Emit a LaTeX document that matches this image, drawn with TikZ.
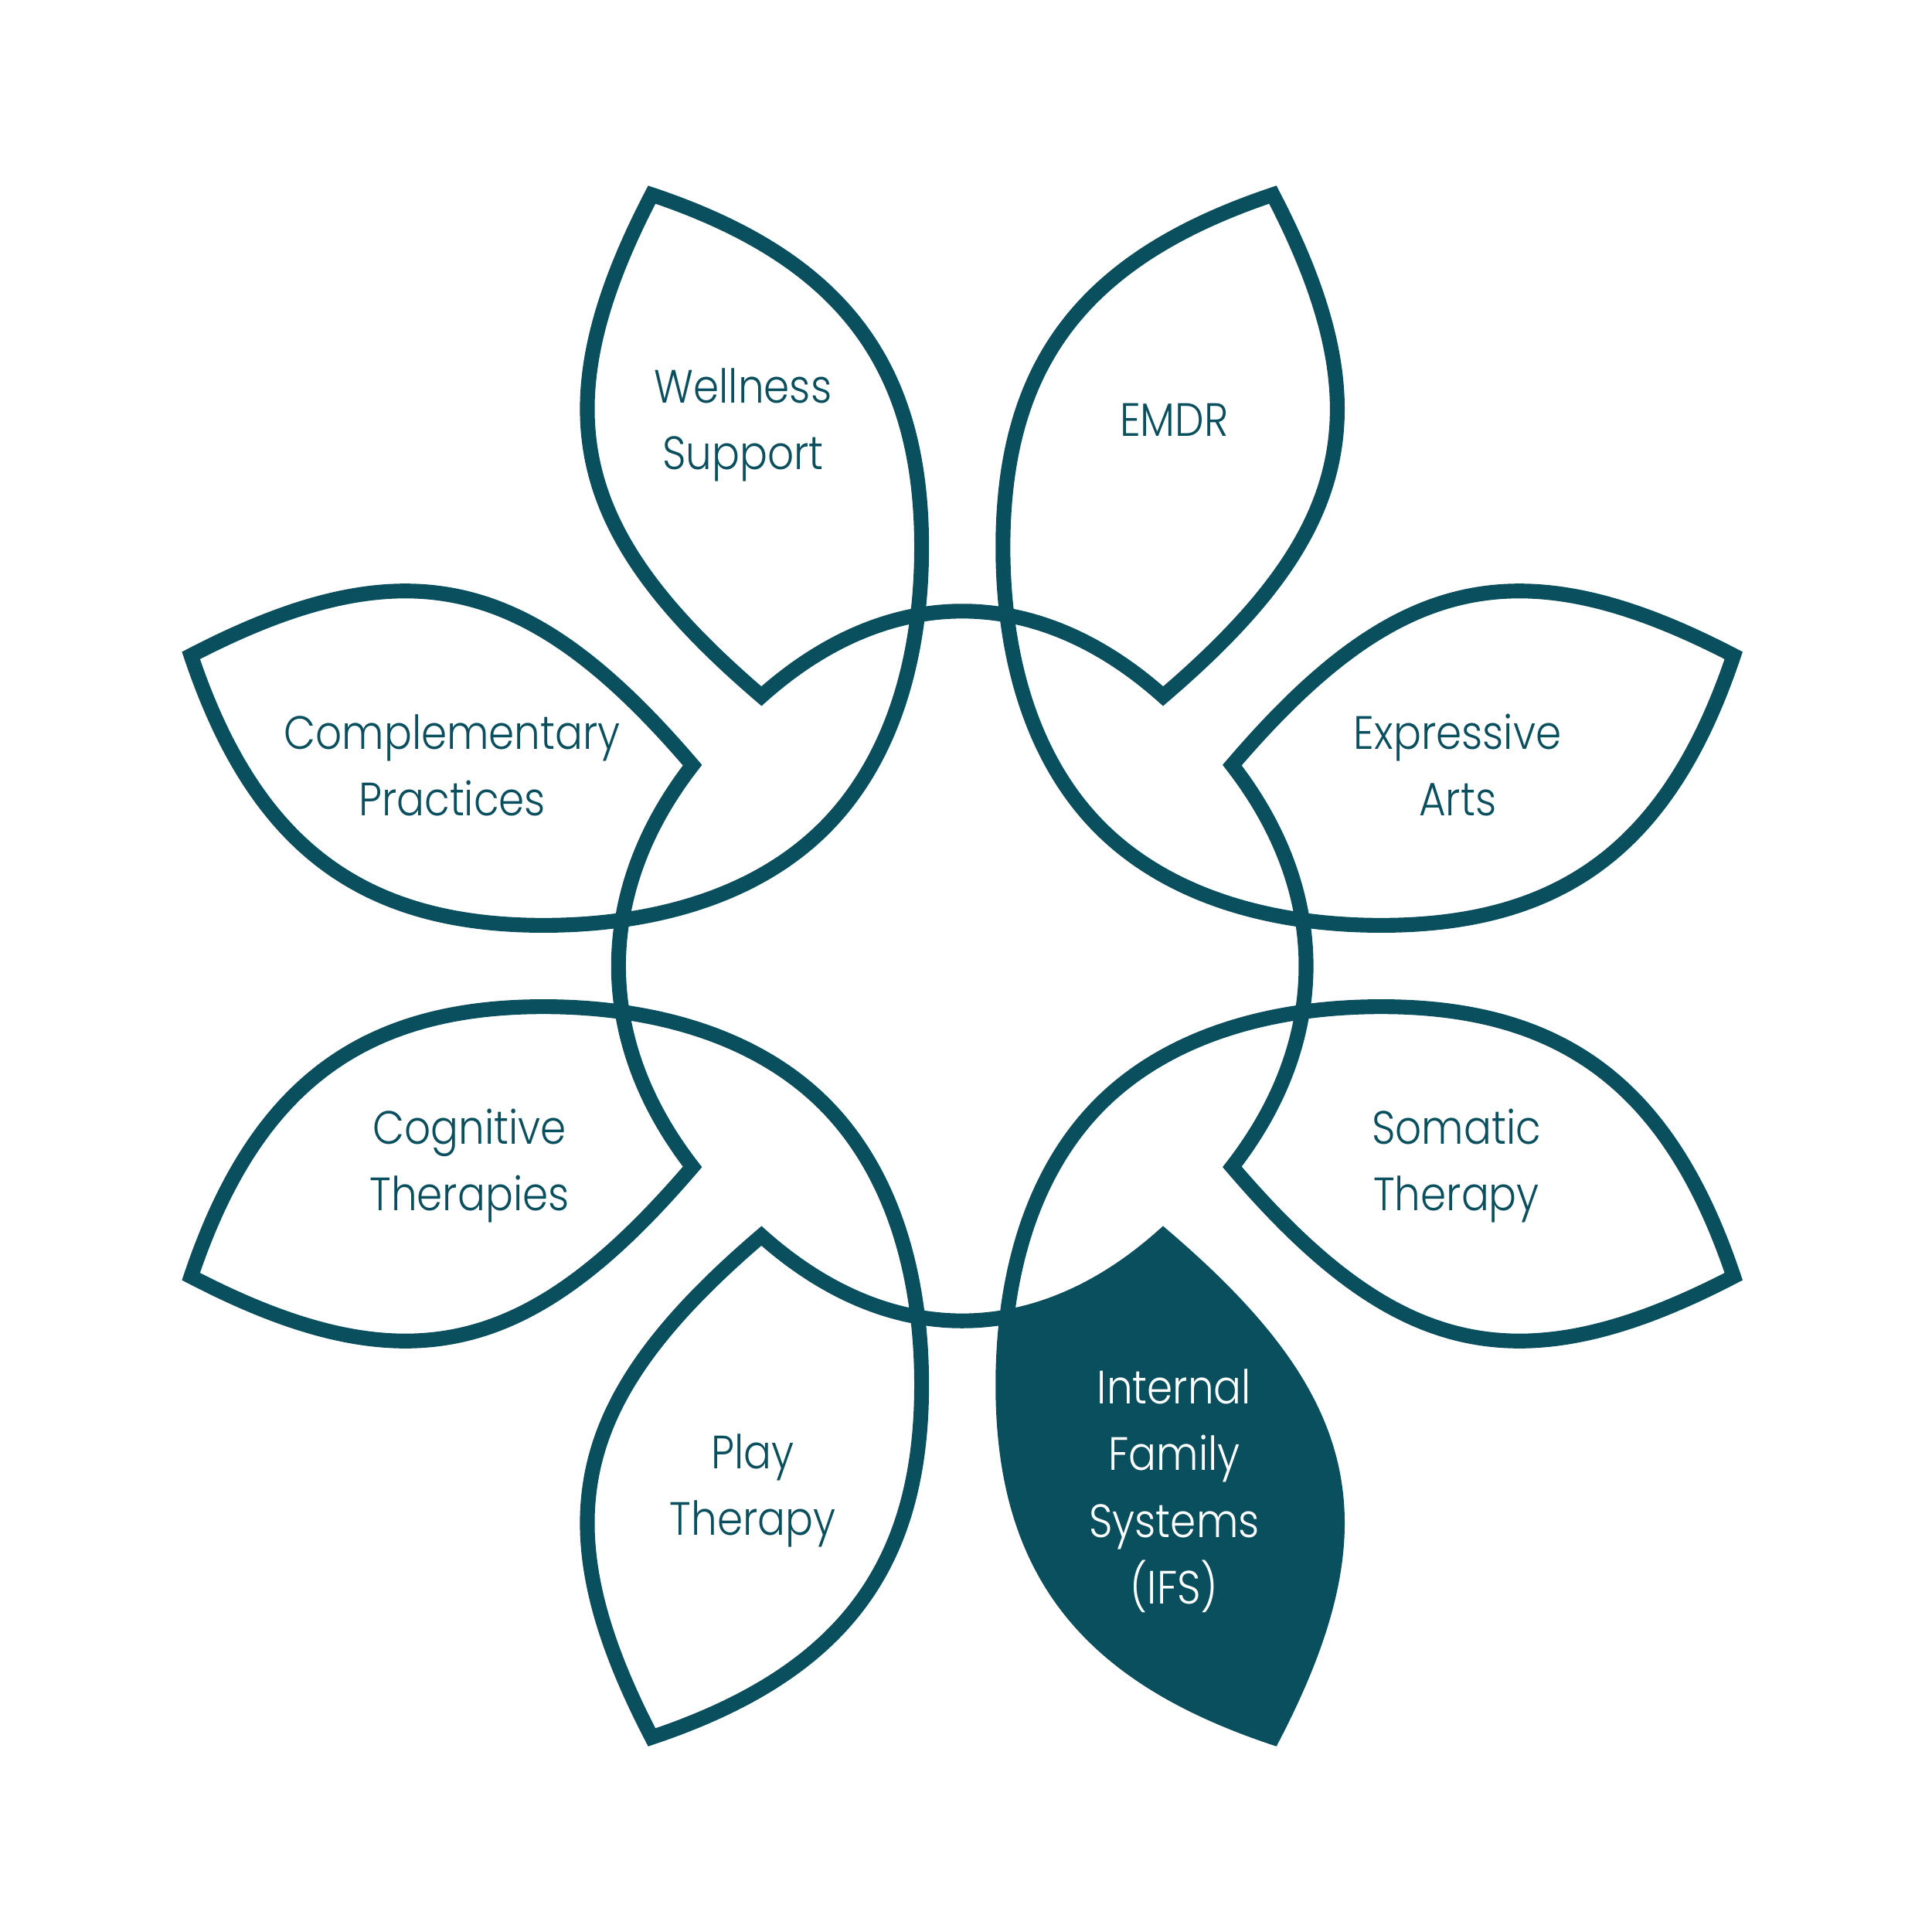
\documentclass[tikz,border=0pt]{standalone}
\usepackage{fontspec}
\IfFontExistsTF{Poppins Light}
  {\setmainfont{Poppins Light}[FakeStretch=0.88]}
  {\setmainfont{Poppins}[FakeStretch=0.88]}
\usepackage{tikz}
\usetikzlibrary{positioning}
\definecolor{petalteal}{RGB}{10,79,94}

\begin{document}
\begin{tikzpicture}[
    x=0.1mm, y=0.1mm,
    petal/.style={draw=petalteal, line width=1.2mm, line join=miter},
    labeltext/.style={align=center, font=\fontsize{10.8}{15.4}\selectfont, text=petalteal, inner sep=0pt},
    darklabel/.style={labeltext, text=white}
  ]
    \useasboundingbox (-781,-784) rectangle (787,784);

    % Filled petal (IFS)
    \begin{scope}
      \clip (163,-219) .. controls (60,-311) and (-60,-311) .. (-163,-219)
        -- (-163,-800) -- (450,-800) -- (450,-219) -- cycle;
      \fill[petalteal] (112,-112) .. controls (57,-167) and (33,-250) .. (33,-340)
        .. controls (33,-490) and (100,-575) .. (252,-626)
        .. controls (344,-449) and (315,-349) .. (163,-219) -- cycle;
    \end{scope}

    % Petal outline, one quarter per turn
    \draw[petal] (-163,219)
      \foreach \turn/\bulge in {0/311,-90/299,-180/311,-270/299}{
        .. controls ([rotate=\turn]-60,\bulge) and ([rotate=\turn]60,\bulge) .. ([rotate=\turn]163,219)
        .. controls ([rotate=\turn]315,349) and ([rotate=\turn]344,449) .. ([rotate=\turn]252,626)
        .. controls ([rotate=\turn]100,575) and ([rotate=\turn]33,490) .. ([rotate=\turn]33,340)
        .. controls ([rotate=\turn]33,250) and ([rotate=\turn]57,167) .. ([rotate=\turn]112,112)
        .. controls ([rotate=\turn]167,57) and ([rotate=\turn]250,33) .. ([rotate=\turn]340,33)
        .. controls ([rotate=\turn]490,33) and ([rotate=\turn]575,100) .. ([rotate=\turn]626,252)
        .. controls ([rotate=\turn]449,344) and ([rotate=\turn]349,315) .. ([rotate=\turn]219,163)
      } -- cycle;

    % Labels
    \node[labeltext] (wellness) at (-178,439) {Wellness\\Support};
    \node[labeltext] (emdr) at (172,443) {EMDR};
    \node[labeltext] (complementary) at (-414,163) {Complementary\\Practices};
    \node[labeltext] (expressive) at (402,163) {Expressive\\Arts};
    \node[labeltext] (cognitive) at (-400,-162) {Cognitive\\Therapies};
    \node[labeltext] (somatic) at (401,-162) {Somatic\\Therapy};
    \node[labeltext] (play) at (-170,-426) {Play\\Therapy};
    \node[darklabel] (ifs) at (172,-426) {Internal\\Family\\Systems\\(IFS)};
\end{tikzpicture}
\end{document}
